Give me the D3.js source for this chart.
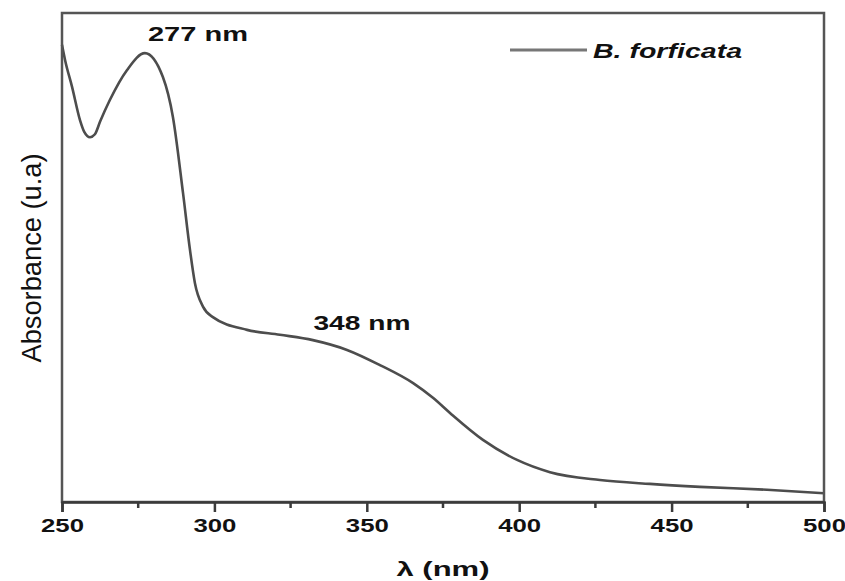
<!DOCTYPE html>
<meta charset="utf-8">
<svg width="845" height="581"></svg>
<script src="https://d3js.org/d3.v7.min.js"></script>
<style>
	body { margin: 0; background: #fff; }
	svg { display: block; font-family: "Liberation Sans", Arial, sans-serif; }
</style>
<script>
	// wavelength (nm) and absorbance (arbitrary units)
	var wavelength = [250, 251, 253.3, 255.9, 257.3, 259.2, 260.8, 262.5, 265.7, 271.3, 277.2, 283.1, 286.4, 289.7, 292, 293.6, 296.3, 299.5,
		310.7, 321.5, 332.3, 343.5, 354.3, 365.2, 371.7, 377.3, 388.1, 399.3, 410.1, 426.5, 442.9, 459.3, 481.3, 500]
	var absorbance = [0.935, 0.904, 0.849, 0.781, 0.757, 0.746, 0.752, 0.778, 0.822, 0.883, 0.918, 0.869, 0.787, 0.632, 0.515, 0.448, 0.399, 0.378,
		0.352, 0.342, 0.331, 0.311, 0.280, 0.243, 0.213, 0.182, 0.127, 0.086, 0.061, 0.045, 0.037, 0.031, 0.025, 0.018]
	var majorTicks = [250, 300, 350, 400, 450, 500]
	var minorTicks = [275, 325, 375, 425, 475]
	var seriesName = 'B. forficata'
	var peakLabels = [{ x: 278.2, y: 0.943, text: '277 nm', len: 100 }, { x: 332.5, y: 0.352, text: '348 nm', len: 97 }]

	var data = wavelength.map((w, i) => ({ w: w, a: absorbance[i] }))

	var svg = d3.select('svg'),
		margin = { top: 13, right: 21, bottom: 79, left: 62 },
		width = +svg.attr('width') - margin.left - margin.right,
		height = +svg.attr('height') - margin.top - margin.bottom,
		g = svg.append('g').attr('transform', 'translate(' + margin.left + ',' + margin.top + ')')

	var x = d3.scaleLinear().domain([250, 500]).range([0, width]),
		y = d3.scaleLinear().domain([0, 1]).range([height, 0])

	// 曲线
	var line = d3.line()
		.x(d => x(d.w))
		.y(d => y(d.a))
		.curve(d3.curveMonotoneX)

	g.append('path')
		.attr('d', line(data))
		.attr('fill', 'none')
		.attr('stroke', '#4d4d4d')
		.attr('stroke-width', 2.6)

	// 边框
	g.append('rect')
		.attr('width', width)
		.attr('height', height)
		.attr('fill', 'none')
		.attr('stroke', '#555')
		.attr('stroke-width', 2.5)

	// x轴
	var xAxis = g.append('g')
		.attr('transform', 'translate(0,' + height + ')')
	xAxis.call(d3.axisBottom(x).tickValues(majorTicks).tickSize(10).tickFormat(d3.format('d')))
	xAxis.select('.domain').attr('stroke', '#3a3a3a').attr('stroke-width', 2.5)
	xAxis.selectAll('.tick line').attr('stroke', '#3a3a3a').attr('stroke-width', 2.5)
	xAxis.selectAll('.tick text')
		.attr('y', 17)
		.attr('dy', '0.71em')
		.attr('fill', '#111')
		.style('font-size', '18px')
		.style('font-weight', 'bold')
		.attr('textLength', 43)
		.attr('lengthAdjust', 'spacingAndGlyphs')

	g.append('g')
		.selectAll('line')
		.data(minorTicks)
		.join('line')
		.attr('x1', d => x(d))
		.attr('x2', d => x(d))
		.attr('y1', height)
		.attr('y2', height + 6)
		.attr('stroke', '#3a3a3a')
		.attr('stroke-width', 2.5)

	// 标题
	svg.append('text')
		.attr('x', 443)
		.attr('y', 576)
		.attr('text-anchor', 'middle')
		.attr('fill', '#111')
		.style('font-size', '21px')
		.style('font-weight', 'bold')
		.attr('textLength', 93)
		.attr('lengthAdjust', 'spacingAndGlyphs')
		.text('λ (nm)')

	svg.append('text')
		.attr('transform', 'translate(41,258) rotate(-90)')
		.attr('text-anchor', 'middle')
		.attr('fill', '#111')
		.style('font-size', '27px')
		.attr('textLength', 209)
		.attr('lengthAdjust', 'spacingAndGlyphs')
		.text('Absorbance (u.a)')

	// 峰值标注
	g.selectAll('.peak')
		.data(peakLabels)
		.join('text')
		.attr('class', 'peak')
		.attr('x', d => x(d.x))
		.attr('y', d => y(d.y))
		.attr('fill', '#111')
		.style('font-size', '21px')
		.style('font-weight', 'bold')
		.attr('textLength', d => d.len)
		.attr('lengthAdjust', 'spacingAndGlyphs')
		.text(d => d.text)

	// 图例
	svg.append('line')
		.attr('x1', 510).attr('x2', 587)
		.attr('y1', 50).attr('y2', 50)
		.attr('stroke', '#777')
		.attr('stroke-width', 3)

	svg.append('text')
		.attr('x', 593)
		.attr('y', 58)
		.attr('fill', '#111')
		.style('font-size', '20px')
		.style('font-weight', 'bold')
		.style('font-style', 'italic')
		.attr('textLength', 149)
		.attr('lengthAdjust', 'spacingAndGlyphs')
		.text(seriesName)
</script>
